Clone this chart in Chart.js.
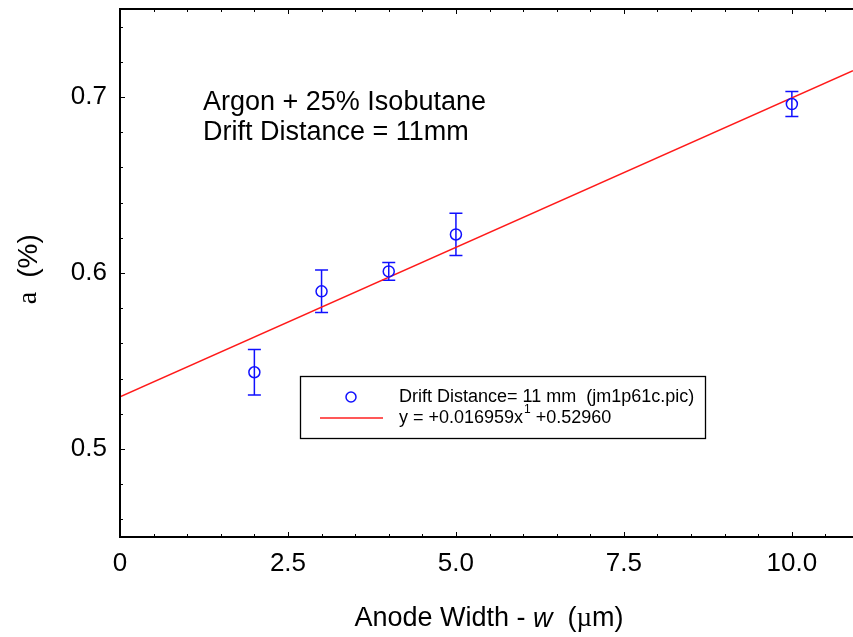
<!DOCTYPE html>
<html>
<head>
<meta charset="utf-8">
<script src="https://cdn.jsdelivr.net/npm/chart.js@4"></script>
<style>
  html, body { margin: 0; padding: 0; background: #fff; }
  #wrap { width: 853px; height: 637px; position: relative; }
</style>
</head>
<body>
<div id="wrap"><canvas id="myChart" width="853" height="637"></canvas></div>
<script>
// anode width (um) and measured a (%)
const widths = [2, 3, 4, 5, 10];
const aValues = [0.5436, 0.5896, 0.6009, 0.6219, 0.6960];
const aErrors = [0.0129, 0.0121, 0.0050, 0.0120, 0.0071];

// fitted line end points, y = +0.016959x +0.52960
const fitX = [0, 10.91];
const fitY = [0.5296, 0.7150];

const xTickLabels = ["0", "2.5", "5.0", "7.5", "10.0"];
const xTickValues = [0, 2.5, 5, 7.5, 10];
const yTickLabels = ["0.5", "0.6", "0.7"];
const yTickValues = [0.5, 0.6, 0.7];

const FONT = "'Liberation Sans', Arial, sans-serif";

const framePlugin = {
    id: "frame",
    beforeDatasetsDraw(chart) {
        const ctx = chart.ctx;
        const xs = chart.scales.x, ys = chart.scales.y;
        ctx.save();
        // error bars
        ctx.strokeStyle = "#1010ff";
        ctx.lineWidth = 1.5;
        widths.forEach((w, i) => {
            const px = xs.getPixelForValue(w);
            const top = ys.getPixelForValue(aValues[i] + aErrors[i]);
            const bot = ys.getPixelForValue(aValues[i] - aErrors[i]);
            ctx.beginPath();
            ctx.moveTo(px, top); ctx.lineTo(px, bot);
            ctx.moveTo(px - 6.5, top); ctx.lineTo(px + 6.5, top);
            ctx.moveTo(px - 6.5, bot); ctx.lineTo(px + 6.5, bot);
            ctx.stroke();
        });
        ctx.restore();
    },
    afterDraw(chart) {
        const ctx = chart.ctx;
        const xs = chart.scales.x, ys = chart.scales.y;
        const a = chart.chartArea;
        ctx.save();

        // frame: left, top, bottom
        ctx.strokeStyle = "#000";
        ctx.lineWidth = 2;
        ctx.beginPath();
        ctx.moveTo(a.right, a.top); ctx.lineTo(a.left, a.top);
        ctx.lineTo(a.left, a.bottom); ctx.lineTo(a.right, a.bottom);
        ctx.stroke();

        // ticks
        ctx.lineWidth = 1;
        ctx.beginPath();
        for (let v = 0; v <= xs.max + 1e-9; v += 0.5) {
            const px = Math.round(xs.getPixelForValue(v)) + 0.5;
            const len = (Math.abs(v / 2.5 - Math.round(v / 2.5)) < 1e-6) ? 5 : 3;
            ctx.moveTo(px, a.bottom); ctx.lineTo(px, a.bottom - len);
            ctx.moveTo(px, a.top); ctx.lineTo(px, a.top + len);
        }
        for (let k = 0; k <= 15; k++) {
            const v = 0.46 + k * 0.02;
            if (v > ys.max) break;
            const py = Math.round(ys.getPixelForValue(v)) + 0.5;
            const len = (k % 5 === 2) ? 5 : 3;
            ctx.moveTo(a.left, py); ctx.lineTo(a.left + len, py);
        }
        ctx.stroke();

        // tick labels
        ctx.fillStyle = "#000";
        ctx.font = "26px " + FONT;
        ctx.textAlign = "center";
        ctx.textBaseline = "middle";
        xTickValues.forEach((v, i) => {
            ctx.fillText(xTickLabels[i], xs.getPixelForValue(v), 564);
        });
        ctx.textAlign = "right";
        yTickValues.forEach((v, i) => {
            ctx.fillText(yTickLabels[i], 107, ys.getPixelForValue(v));
        });

        // x title with italic w
        const parts = [
            ["Anode Width - ", "27px " + FONT],
            ["w", "italic 27px " + FONT],
            ["  (", "27px " + FONT],
            ["\u00b5", "27px 'Liberation Serif', serif"],
            ["m)", "27px " + FONT]
        ];
        let total = 0;
        parts.forEach(p => { ctx.font = p[1]; total += ctx.measureText(p[0]).width; });
        let cx = 489 - total / 2;
        ctx.textAlign = "left";
        parts.forEach(p => {
            ctx.font = p[1];
            ctx.fillText(p[0], cx, 619);
            cx += ctx.measureText(p[0]).width;
        });

        // y title
        ctx.save();
        ctx.translate(29, 0);
        ctx.rotate(-Math.PI / 2);
        ctx.textAlign = "center";
        ctx.font = "28px 'Liberation Serif', serif";
        ctx.fillText("a", -298, 0);
        ctx.font = "28px " + FONT;
        ctx.fillText("(%)", -256, 0);
        ctx.restore();

        // annotation
        ctx.font = "27px " + FONT;
        ctx.textAlign = "left";
        ctx.fillText("Argon + 25% Isobutane", 203, 103);
        ctx.fillText("Drift Distance = 11mm", 203, 133);

        // legend box
        ctx.fillStyle = "#fff";
        ctx.fillRect(300, 376, 405, 62);
        ctx.strokeStyle = "#000";
        ctx.lineWidth = 1.3;
        ctx.strokeRect(300.5, 376.5, 405, 62);
        ctx.strokeStyle = "#1010ff";
        ctx.lineWidth = 1.5;
        ctx.beginPath();
        ctx.arc(351, 397, 5, 0, Math.PI * 2);
        ctx.stroke();
        ctx.strokeStyle = "#ff2020";
        ctx.beginPath();
        ctx.moveTo(320, 418); ctx.lineTo(383, 418);
        ctx.stroke();
        ctx.fillStyle = "#000";
        ctx.font = "18px " + FONT;
        ctx.fillText("Drift Distance= 11 mm  (jm1p61c.pic)", 399, 397);
        const s1 = "y = +0.016959x";
        ctx.fillText(s1, 399, 418);
        let ex = 399 + ctx.measureText(s1).width;
        ctx.font = "12px " + FONT;
        ctx.fillText("1", ex + 1, 410);
        ex += ctx.measureText("1").width + 1;
        ctx.font = "18px " + FONT;
        ctx.fillText(" +0.52960", ex, 418);

        ctx.restore();
    }
};

new Chart("myChart", {
    type: "scatter",
    data: {
        datasets: [
            {
                label: "Drift Distance= 11 mm (jm1p61c.pic)",
                data: widths.map((w, i) => ({ x: w, y: aValues[i] })),
                pointStyle: "circle",
                pointRadius: 5.5,
                pointBorderWidth: 1.5,
                pointBorderColor: "#1010ff",
                pointBackgroundColor: "rgba(0,0,0,0)",
                showLine: false
            },
            {
                label: "y = +0.016959x +0.52960",
                data: fitX.map((x, i) => ({ x: x, y: fitY[i] })),
                showLine: true,
                borderColor: "#ff1a1a",
                borderWidth: 1.5,
                pointRadius: 0
            }
        ]
    },
    options: {
        responsive: false,
        animation: false,
        layout: { autoPadding: false, padding: { left: 120, top: 9, right: 0, bottom: 100 } },
        plugins: {
            legend: { display: false },
            tooltip: { enabled: false }
        },
        scales: {
            x: { type: "linear", min: 0, max: 10.91, display: false },
            y: { type: "linear", min: 0.45, max: 0.75, display: false }
        }
    },
    plugins: [framePlugin]
});
</script>
</body>
</html>
